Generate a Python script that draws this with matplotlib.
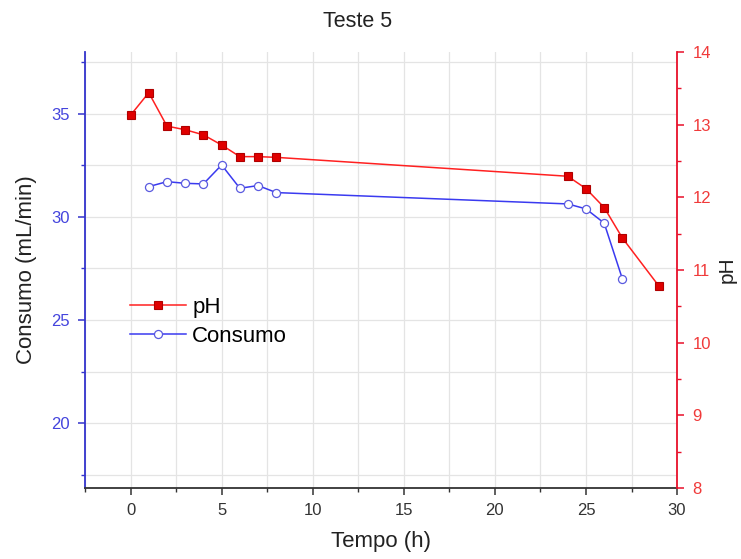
import numpy as np
import matplotlib.pyplot as plt
from matplotlib.ticker import MultipleLocator

plt.rcParams['font.family'] = ['Liberation Sans', 'DejaVu Sans']

# pH readings (right axis)
tempo_ph = [0, 1, 2, 3, 4, 5, 6, 7, 8, 24, 25, 26, 27, 29]
ph = [13.13, 13.44, 12.98, 12.93, 12.86, 12.72, 12.56, 12.56, 12.55,
      12.29, 12.12, 11.86, 11.44, 10.78]

# consumption readings (left axis)
tempo_cons = [1, 2, 3, 4, 5, 6, 7, 8, 24, 25, 26, 27]
consumo = [31.47, 31.71, 31.63, 31.6, 32.52, 31.39, 31.52, 31.18,
           30.63, 30.39, 29.7, 26.99]

azul = '#3333cc'
vermelho = '#e8102a'

fig = plt.figure(figsize=(7.41, 5.59), dpi=100)
ax = fig.add_axes([0.1147, 0.127, 0.799, 0.78])
ax2 = ax.twinx()

ax.set_xlim(-2.5, 30)
ax.set_ylim(16.85, 38)
ax2.set_ylim(8, 14)

ax.xaxis.set_major_locator(MultipleLocator(5))
ax.xaxis.set_minor_locator(MultipleLocator(2.5))
ax.yaxis.set_major_locator(MultipleLocator(5))
ax.yaxis.set_minor_locator(MultipleLocator(2.5))
ax2.yaxis.set_major_locator(MultipleLocator(1))
ax2.yaxis.set_minor_locator(MultipleLocator(0.5))

ax.grid(True, which='both', color='#e4e4e4', lw=0.9)
ax.set_axisbelow(True)

l_cons, = ax.plot(tempo_cons, consumo, color='#3a3af0', lw=1.1, marker='o',
                  ms=5.8, mfc='white', mec='#5a5ae0', mew=0.9, label='Consumo')
l_ph, = ax2.plot(tempo_ph, ph, color='#ff2020', lw=1.1, marker='s',
                 ms=6, mfc='#e00000', mec='#b00000', mew=0.8, label='pH')

for s in ['top']:
    ax.spines[s].set_visible(False)
    ax2.spines[s].set_visible(False)
ax.spines['right'].set_visible(False)
ax2.spines['left'].set_visible(False)
ax2.spines['bottom'].set_visible(False)
ax.spines['left'].set_color(azul)
ax.spines['left'].set_linewidth(1.3)
ax2.spines['right'].set_color(vermelho)
ax2.spines['right'].set_linewidth(1.3)
ax.spines['bottom'].set_color('#333333')
ax.spines['bottom'].set_linewidth(1.3)

ax.tick_params(axis='x', which='major', length=5, width=1.1, labelsize=12,
               colors='#333333', pad=6)
ax.tick_params(axis='x', which='minor', length=3, width=1.0, colors='#333333')
ax.tick_params(axis='y', which='major', length=5, width=1.1, labelsize=12,
               colors=azul, labelcolor='#4444dd', pad=6)
ax.tick_params(axis='y', which='minor', length=3, width=1.0, colors=azul)
ax2.tick_params(axis='y', which='major', length=5, width=1.1, labelsize=12,
                colors=vermelho, labelcolor='#f03a3a', pad=6)
ax2.tick_params(axis='y', which='minor', length=3, width=1.0, colors=vermelho)

ax.set_xlabel('Tempo (h)', fontsize=16, color='#222222', labelpad=9)
ax.set_ylabel('Consumo (mL/min)', fontsize=16, color='#222222', labelpad=10)
ax2.set_ylabel('pH', fontsize=15, color='#222222', labelpad=5)
ax.set_title('Teste 5', fontsize=15.5, color='#222222', pad=18, x=0.46)

ax2.legend([l_ph, l_cons], ['pH', 'Consumo'], loc='center left',
           bbox_to_anchor=(0.061, 0.381), frameon=False, fontsize=16,
           handlelength=2.5, handletextpad=0.3, labelspacing=0.35,
           borderaxespad=0)

fig.savefig('out.png', dpi=100)
